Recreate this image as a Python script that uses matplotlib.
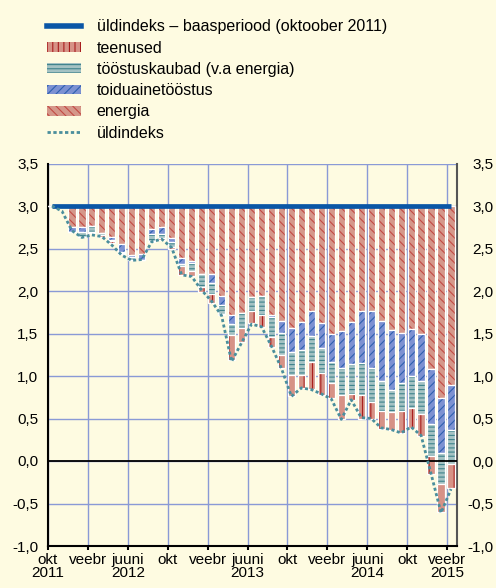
import numpy as np
import matplotlib.pyplot as plt
from matplotlib.patches import Patch
from matplotlib.lines import Line2D

plt.rcParams['font.family'] = ['Liberation Sans', 'DejaVu Sans']
plt.rcParams['hatch.linewidth'] = 0.8

# kuud: okt 2011 ... veebr 2015 (41 kuud)
months = np.arange(41)
base = 3.0  # üldindeks baasperioodil (oktoober 2011)

# panused (pp) võrreldes baasperioodiga
energia = [0, 0, -0.25, -0.25, -0.24, -0.32, -0.36, -0.45, -0.58, -0.57,
           -0.27, -0.25, -0.38, -0.61, -0.65, -0.80, -0.80, -1.06, -1.28, -1.26,
           -1.07, -1.06, -1.28, -1.35, -1.44, -1.36, -1.24, -1.38, -1.50, -1.47,
           -1.37, -1.24, -1.23, -1.35, -1.46, -1.49, -1.45, -1.51, -1.92, -2.26,
           -2.11]
toiduaine = [0, 0, -0.05, -0.05, 0, 0, -0.04, -0.09, -0.02, -0.07,
             -0.06, -0.08, -0.04, -0.07, -0.02, 0, -0.11, -0.10, -0.11, 0,
             0, 0, -0.03, -0.14, -0.28, -0.33, -0.29, -0.29, -0.34, -0.44,
             -0.49, -0.61, -0.68, -0.71, -0.70, -0.59, -0.55, -0.55, -0.64, -0.65,
             -0.53]
toostuskaubad = [0, 0, 0, -0.07, -0.06, -0.02, -0.01, -0.01, -0.03, 0,
                 -0.08, -0.05, -0.06, -0.02, -0.10, -0.15, -0.13, -0.11, -0.13, -0.18,
                 -0.17, -0.22, -0.23, -0.26, -0.27, -0.30, -0.30, -0.29, -0.24, -0.31,
                 -0.35, -0.37, -0.39, -0.35, -0.26, -0.33, -0.38, -0.39, -0.38, -0.36,
                 -0.39]
teenused = [0, 0, 0, 0, -0.02, -0.02, -0.03, -0.01, 0, 0,
            -0.01, -0.02, -0.02, -0.11, -0.05, -0.06, -0.10, -0.01, -0.29, -0.16,
            -0.14, -0.14, -0.12, -0.16, -0.25, -0.15, -0.32, -0.26, -0.18, -0.28,
            -0.07, -0.28, -0.20, -0.21, -0.21, -0.26, -0.23, -0.25, -0.21, -0.33,
            -0.29]
uldindeks = [3.0, 2.94, 2.71, 2.63, 2.66, 2.64, 2.54, 2.42, 2.36, 2.37,
             2.58, 2.61, 2.51, 2.19, 2.17, 2.01, 1.88, 1.71, 1.17, 1.39,
             1.61, 1.58, 1.35, 1.09, 0.76, 0.86, 0.84, 0.79, 0.73, 0.49,
             0.72, 0.51, 0.50, 0.39, 0.37, 0.33, 0.40, 0.30, -0.15, -0.61,
             -0.33]

tick_pos = np.arange(0, 41, 4) - 0.4
tick_labels = ['okt\n2011', 'veebr', 'juuni\n2012', 'okt', 'veebr', 'juuni\n2013',
               'okt', 'veebr', 'juuni\n2014', 'okt', 'veebr\n2015']

bg = '#fefbe1'
grid_c = '#8a9ad6'
series = [
    ('energia', energia, '#d5978a', '#c24a44', '\\\\\\\\'),
    ('toiduainetööstus', toiduaine, '#7c91d2', '#2e5faf', '////'),
    ('tööstuskaubad (v.a energia)', toostuskaubad, '#a4c2c3', '#3f838c', '----'),
    ('teenused', teenused, '#d69286', '#a81e1e', '||'),
]

fig = plt.figure(figsize=(4.96, 5.88), dpi=100, facecolor=bg)
ax = fig.add_axes([48 / 496, 1 - 546 / 588, 409 / 496, 382.5 / 588], facecolor=bg)

w = 0.72
bottom = np.full(len(months), base)
for name, vals, fc, hc, hatch in series:
    vals = np.array(vals)
    # viirutus servavärviga, valge piirjoon eraldi
    ax.bar(months, vals, w, bottom=bottom, color=fc, edgecolor=hc, hatch=hatch,
           linewidth=0, zorder=3)
    ax.bar(months, vals, w, bottom=bottom, fill=False, edgecolor='white',
           linewidth=0.9, zorder=3)
    bottom = bottom + vals

ax.plot([months[0], months[-1]], [base, base], color='#0a56a6', lw=3.4,
        solid_capstyle='butt', zorder=5)
ax.plot(months, uldindeks, color='#4a8e9c', lw=2.0, ls=(0, (1.1, 0.9)), zorder=6)
ax.axhline(0, color='black', lw=1.3, zorder=4)

ax.set_xlim(-0.4, 40.6)
ax.set_ylim(-1.0, 3.5)
yt = np.arange(-1.0, 3.51, 0.5)
ylabels = [f'{v:.1f}'.replace('.', ',') for v in yt]
ax.set_yticks(yt)
ax.set_yticklabels(ylabels)
ax.set_xticks(tick_pos)
ax.set_xticklabels(tick_labels, linespacing=0.95)

ax.grid(True, color=grid_c, lw=1.0, zorder=1)
ax.spines['top'].set_visible(False)
ax.spines['left'].set_linewidth(1.5)
ax.spines['bottom'].set_linewidth(1.5)
ax.spines['right'].set_color('#555555')
ax.spines['right'].set_linewidth(1.5)
ax.tick_params(axis='y', length=0, labelsize=11, pad=7)
ax.tick_params(axis='x', length=3, width=1.5, labelsize=11, pad=2)

# parem skaala, paremale joondatud
ax2 = ax.twinx()
ax2.set_ylim(ax.get_ylim())
ax2.set_yticks(yt)
ax2.set_yticklabels(ylabels, ha='right')
ax2.tick_params(axis='y', length=0, labelsize=11, pad=26.5)
for s in ax2.spines.values():
    s.set_visible(False)

handles = [
    Line2D([], [], color='#0a56a6', lw=4),
    Patch(facecolor='#d69286', edgecolor='#a81e1e', hatch='|||', lw=0),
    Patch(facecolor='#a4c2c3', edgecolor='#3f838c', hatch='----', lw=0),
    Patch(facecolor='#7c91d2', edgecolor='#2e5faf', hatch='////', lw=0),
    Patch(facecolor='#d5978a', edgecolor='#c24a44', hatch='\\\\\\\\', lw=0),
    Line2D([], [], color='#4a8e9c', lw=2, ls=(0, (1.2, 0.9))),
]
labels = ['üldindeks – baasperiood (oktoober 2011)', 'teenused',
          'tööstuskaubad (v.a energia)', 'toiduainetööstus', 'energia', 'üldindeks']
fig.legend(handles, labels, loc='upper left', bbox_to_anchor=(47 / 496, 1 - 19.5 / 588),
           frameon=False, fontsize=11.5, handlelength=2.1, handleheight=0.55,
           handletextpad=1.0, labelspacing=0.39, borderpad=0, borderaxespad=0)

fig.savefig('out.png', dpi=100, facecolor=bg)
